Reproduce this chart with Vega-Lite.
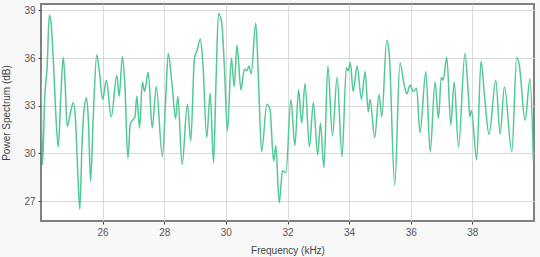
{
  "$schema": "https://vega.github.io/schema/vega-lite/v6.json",
  "autosize": "none",
  "width": 493,
  "height": 217,
  "padding": {"left": 41, "top": 4, "right": 6, "bottom": 36},
  "background": "#f8f8f8",
  "config": {
    "view": {"fill": "#ffffff", "stroke": "#808080", "strokeWidth": 2},
    "font": "Liberation Sans",
    "axis": {
      "domain": false,
      "gridColor": "#d9d9d9",
      "gridWidth": 1,
      "tickColor": "#444444",
      "tickSize": 3,
      "labelColor": "#555555",
      "labelFontSize": 10,
      "titleColor": "#444444",
      "titleFontSize": 10,
      "titleFontWeight": "normal",
      "labelPadding": 3
    }
  },
  "data": {
    "values": [
      {"f": 24.00, "v": 35.2}, {"f": 24.05, "v": 29.3}, {"f": 24.12, "v": 33.5}, {"f": 24.20, "v": 35.5},
      {"f": 24.27, "v": 38.7}, {"f": 24.32, "v": 38.3}, {"f": 24.40, "v": 35.9}, {"f": 24.48, "v": 32.5},
      {"f": 24.56, "v": 30.4}, {"f": 24.64, "v": 33.5}, {"f": 24.72, "v": 36.05}, {"f": 24.78, "v": 34.5},
      {"f": 24.85, "v": 31.7}, {"f": 24.95, "v": 32.5}, {"f": 25.05, "v": 33.2}, {"f": 25.12, "v": 32.1},
      {"f": 25.20, "v": 28.5}, {"f": 25.26, "v": 26.5}, {"f": 25.33, "v": 30.5}, {"f": 25.40, "v": 32.8},
      {"f": 25.48, "v": 33.5}, {"f": 25.54, "v": 32.0}, {"f": 25.61, "v": 28.25}, {"f": 25.70, "v": 32.5},
      {"f": 25.81, "v": 36.2}, {"f": 25.90, "v": 35.05}, {"f": 26.00, "v": 33.4}, {"f": 26.12, "v": 34.6},
      {"f": 26.28, "v": 32.3}, {"f": 26.46, "v": 34.9}, {"f": 26.54, "v": 33.6}, {"f": 26.64, "v": 36.1},
      {"f": 26.72, "v": 34.4}, {"f": 26.82, "v": 29.7}, {"f": 26.90, "v": 31.9}, {"f": 26.98, "v": 32.1},
      {"f": 27.05, "v": 32.3}, {"f": 27.11, "v": 33.6}, {"f": 27.20, "v": 31.6}, {"f": 27.29, "v": 34.5},
      {"f": 27.36, "v": 33.9}, {"f": 27.48, "v": 35.1}, {"f": 27.61, "v": 31.6}, {"f": 27.74, "v": 34.2},
      {"f": 27.94, "v": 29.8}, {"f": 28.05, "v": 33.5}, {"f": 28.13, "v": 36.3}, {"f": 28.25, "v": 34.4},
      {"f": 28.37, "v": 32.2}, {"f": 28.44, "v": 33.6}, {"f": 28.58, "v": 29.3}, {"f": 28.75, "v": 33.1},
      {"f": 28.86, "v": 30.8}, {"f": 28.98, "v": 36.0}, {"f": 29.07, "v": 36.5}, {"f": 29.17, "v": 37.2},
      {"f": 29.25, "v": 35.8}, {"f": 29.38, "v": 31.0}, {"f": 29.49, "v": 33.8}, {"f": 29.60, "v": 29.4},
      {"f": 29.68, "v": 34.5}, {"f": 29.76, "v": 38.8}, {"f": 29.86, "v": 38.3}, {"f": 29.95, "v": 35.5},
      {"f": 30.05, "v": 31.4}, {"f": 30.18, "v": 36.0}, {"f": 30.27, "v": 34.2}, {"f": 30.36, "v": 36.8},
      {"f": 30.49, "v": 34.0}, {"f": 30.60, "v": 35.3}, {"f": 30.68, "v": 35.2}, {"f": 30.75, "v": 35.5},
      {"f": 30.82, "v": 35.0}, {"f": 30.97, "v": 38.2}, {"f": 31.06, "v": 34.5}, {"f": 31.16, "v": 30.1},
      {"f": 31.33, "v": 33.1}, {"f": 31.43, "v": 32.8}, {"f": 31.55, "v": 29.5}, {"f": 31.62, "v": 30.5},
      {"f": 31.73, "v": 26.9}, {"f": 31.84, "v": 28.9}, {"f": 31.95, "v": 28.8}, {"f": 32.11, "v": 33.4},
      {"f": 32.24, "v": 30.5}, {"f": 32.36, "v": 34.0}, {"f": 32.46, "v": 31.9}, {"f": 32.57, "v": 34.4},
      {"f": 32.71, "v": 30.4}, {"f": 32.84, "v": 33.2}, {"f": 32.98, "v": 29.9}, {"f": 33.07, "v": 31.9},
      {"f": 33.18, "v": 29.1}, {"f": 33.31, "v": 35.5}, {"f": 33.46, "v": 31.1}, {"f": 33.61, "v": 34.8},
      {"f": 33.77, "v": 29.8}, {"f": 33.91, "v": 35.4}, {"f": 33.97, "v": 35.2}, {"f": 34.04, "v": 35.7},
      {"f": 34.13, "v": 33.9}, {"f": 34.26, "v": 35.5}, {"f": 34.40, "v": 33.4}, {"f": 34.52, "v": 35.15},
      {"f": 34.62, "v": 32.6}, {"f": 34.68, "v": 33.4}, {"f": 34.83, "v": 31.0}, {"f": 34.97, "v": 33.7},
      {"f": 35.06, "v": 32.3}, {"f": 35.22, "v": 37.1}, {"f": 35.30, "v": 36.3}, {"f": 35.48, "v": 28.0},
      {"f": 35.65, "v": 35.7}, {"f": 35.78, "v": 34.4}, {"f": 35.87, "v": 33.75}, {"f": 35.98, "v": 34.3},
      {"f": 36.08, "v": 33.9}, {"f": 36.19, "v": 34.1}, {"f": 36.30, "v": 31.3}, {"f": 36.49, "v": 35.15},
      {"f": 36.63, "v": 30.1}, {"f": 36.79, "v": 34.5}, {"f": 36.90, "v": 32.2}, {"f": 36.99, "v": 34.8},
      {"f": 37.05, "v": 34.6}, {"f": 37.17, "v": 36.05}, {"f": 37.30, "v": 31.8}, {"f": 37.41, "v": 34.5},
      {"f": 37.55, "v": 30.4}, {"f": 37.76, "v": 36.3}, {"f": 37.86, "v": 34.0}, {"f": 37.92, "v": 32.3},
      {"f": 37.97, "v": 32.7}, {"f": 38.14, "v": 29.6}, {"f": 38.28, "v": 35.8}, {"f": 38.40, "v": 33.5},
      {"f": 38.54, "v": 31.2}, {"f": 38.76, "v": 34.6}, {"f": 38.90, "v": 31.2}, {"f": 39.04, "v": 34.2},
      {"f": 39.28, "v": 30.1}, {"f": 39.44, "v": 36.05}, {"f": 39.52, "v": 35.6}, {"f": 39.71, "v": 32.1},
      {"f": 39.87, "v": 34.7}, {"f": 39.98, "v": 29.5}
    ]
  },
  "mark": {"type": "line", "interpolate": "monotone", "color": "#52c994", "strokeWidth": 1.5, "clip": true},
  "encoding": {
    "x": {
      "field": "f",
      "type": "quantitative",
      "title": "Frequency (kHz)",
      "scale": {"domain": [24, 40], "nice": false, "zero": false},
      "axis": {"values": [26, 28, 30, 32, 34, 36, 38], "titlePadding": 8}
    },
    "y": {
      "field": "v",
      "type": "quantitative",
      "title": "Power Spectrum (dB)",
      "scale": {"domain": [25.75, 39.4], "nice": false, "zero": false},
      "axis": {"values": [27, 30, 33, 36, 39], "titlePadding": 12}
    }
  }
}
